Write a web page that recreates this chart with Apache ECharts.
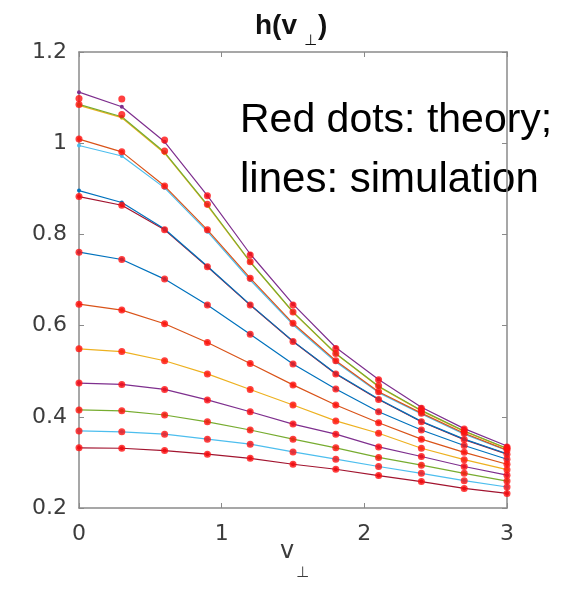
<!DOCTYPE html>
<html>
<head>
<meta charset="utf-8">
<script src="https://cdn.jsdelivr.net/npm/echarts@6/dist/echarts.min.js"></script>
<style>html,body{margin:0;padding:0;background:#fff;}#c{width:588px;height:589px;}</style>
</head>
<body>
<div id="c"></div>
<script>
// x positions (v_perp)
const vPerp = [0, 0.3, 0.6, 0.9, 1.2, 1.5, 1.8, 2.1, 2.4, 2.7, 3.0];
const xTicks = [0, 1, 2, 3];
const yTicks = [0.2, 0.4, 0.6, 0.8, 1, 1.2];

// theory (red dots)
const theory1  = [1.098, 1.097, 1.007, 0.885, 0.755, 0.645, 0.550, 0.481, 0.419, 0.373, 0.334];
const theory2  = [1.085, 1.063, 0.983, 0.866, 0.740, 0.630, 0.539, 0.468, 0.414, 0.369, 0.331];
const theory3  = [1.009, 0.981, 0.906, 0.810, 0.704, 0.605, 0.523, 0.455, 0.408, 0.364, 0.327];
const theory4  = [0.883, 0.864, 0.810, 0.729, 0.645, 0.565, 0.494, 0.438, 0.389, 0.350, 0.318];
const theory5  = [0.761, 0.745, 0.702, 0.645, 0.581, 0.516, 0.461, 0.411, 0.371, 0.337, 0.307];
const theory6  = [0.647, 0.634, 0.604, 0.563, 0.517, 0.470, 0.426, 0.387, 0.351, 0.322, 0.296];
const theory7  = [0.549, 0.543, 0.523, 0.494, 0.460, 0.426, 0.391, 0.364, 0.331, 0.306, 0.284];
const theory8  = [0.474, 0.471, 0.460, 0.437, 0.411, 0.384, 0.362, 0.334, 0.313, 0.291, 0.272];
const theory9  = [0.415, 0.413, 0.404, 0.389, 0.371, 0.351, 0.332, 0.311, 0.294, 0.276, 0.259];
const theory10 = [0.369, 0.367, 0.362, 0.351, 0.340, 0.323, 0.307, 0.291, 0.276, 0.260, 0.246];
const theory11 = [0.332, 0.331, 0.326, 0.318, 0.309, 0.296, 0.285, 0.271, 0.258, 0.243, 0.232];

// simulation lines
const simPurpleTop = [1.112, 1.080, 1.003, 0.885, 0.757, 0.647, 0.552, 0.482, 0.421, 0.374, 0.336];
const simYellowTop = [1.083, 1.056, 0.978, 0.863, 0.739, 0.629, 0.538, 0.466, 0.413, 0.368, 0.330];
const simGreenTop  = [1.085, 1.058, 0.980, 0.865, 0.740, 0.630, 0.539, 0.467, 0.414, 0.369, 0.331];
const simOrangeTop = [1.009, 0.981, 0.906, 0.810, 0.704, 0.605, 0.523, 0.455, 0.408, 0.364, 0.327];
const simCyanTop   = [0.995, 0.972, 0.902, 0.806, 0.700, 0.602, 0.520, 0.453, 0.406, 0.362, 0.326];
const simBlueTop   = [0.896, 0.870, 0.812, 0.730, 0.646, 0.566, 0.495, 0.439, 0.390, 0.351, 0.319];
const simDarkRed1  = [0.883, 0.864, 0.810, 0.729, 0.645, 0.565, 0.494, 0.438, 0.389, 0.350, 0.318];
const simBlue2     = [0.761, 0.745, 0.702, 0.645, 0.581, 0.516, 0.461, 0.411, 0.371, 0.337, 0.307];
const simOrange2   = [0.647, 0.634, 0.604, 0.563, 0.517, 0.470, 0.426, 0.387, 0.351, 0.322, 0.296];
const simYellow2   = [0.549, 0.543, 0.523, 0.494, 0.460, 0.426, 0.391, 0.364, 0.331, 0.306, 0.284];
const simPurple2   = [0.474, 0.471, 0.460, 0.437, 0.411, 0.384, 0.362, 0.334, 0.313, 0.291, 0.272];
const simGreen2    = [0.415, 0.413, 0.404, 0.389, 0.371, 0.351, 0.332, 0.311, 0.294, 0.276, 0.259];
const simCyan2     = [0.369, 0.367, 0.362, 0.351, 0.340, 0.323, 0.307, 0.291, 0.276, 0.260, 0.246];
const simDarkRed2  = [0.332, 0.331, 0.326, 0.318, 0.309, 0.296, 0.285, 0.271, 0.258, 0.243, 0.232];

const C = {blue:'#0072BD', orange:'#D95319', yellow:'#EDB120', purple:'#7E2F8E', green:'#77AC30', cyan:'#4DBEEE', darkred:'#A2142F'};

const simLines = [
  [simDarkRed2, C.darkred], [simCyan2, C.cyan], [simGreen2, C.green], [simPurple2, C.purple],
  [simYellow2, C.yellow], [simOrange2, C.orange], [simBlue2, C.blue], [simDarkRed1, C.darkred],
  [simBlueTop, C.blue], [simCyanTop, C.cyan], [simOrangeTop, C.orange],
  [simYellowTop, C.yellow], [simGreenTop, C.green], [simPurpleTop, C.purple]
];
const theories = [theory1, theory2, theory3, theory4, theory5, theory6, theory7, theory8, theory9, theory10, theory11];

const pairs = ys => vPerp.map((x, i) => [x, ys[i]]);

const series = [];
simLines.forEach(([ys, col]) => {
  series.push({
    type: 'line', data: pairs(ys), symbol: 'circle', symbolSize: 4, showSymbol: true,
    itemStyle: {color: col}, lineStyle: {color: col, width: 1.2}, z: 2, silent: true, animation: false
  });
});
theories.forEach(ys => {
  series.push({
    type: 'scatter', data: pairs(ys), symbol: 'circle', symbolSize: 7,
    itemStyle: {color: '#ff1010'}, z: 3, silent: true, animation: false
  });
});

const axisCol = '#8a8a8a';
const labelFont = {fontFamily: 'DejaVu Sans', fontSize: 22, color: '#3c3c3c'};

const chart = echarts.init(document.getElementById('c'), null, {renderer: 'canvas'});
chart.setOption({
  animation: false,
  backgroundColor: '#fff',
  grid: {left: 79, right: 81, top: 52, bottom: 81, containLabel: false},
  xAxis: [
    {type: 'value', min: xTicks[0], max: xTicks[xTicks.length - 1], interval: 1, position: 'bottom',
     axisLine: {show: true, lineStyle: {color: axisCol, width: 1.5}},
     axisTick: {show: true, inside: true, length: 5, lineStyle: {color: axisCol}},
     axisLabel: Object.assign({margin: 15}, labelFont),
     splitLine: {show: false}},
    {type: 'value', min: xTicks[0], max: xTicks[xTicks.length - 1], interval: 1, position: 'top',
     axisLine: {show: true, onZero: false, lineStyle: {color: axisCol, width: 1.5}},
     axisTick: {show: true, inside: true, length: 5, lineStyle: {color: axisCol}},
     axisLabel: {show: false}, splitLine: {show: false}}
  ],
  yAxis: [
    {type: 'value', min: yTicks[0], max: yTicks[yTicks.length - 1], interval: 0.2, position: 'left',
     axisLine: {show: true, lineStyle: {color: axisCol, width: 1.5}},
     axisTick: {show: true, inside: true, length: 5, lineStyle: {color: axisCol}},
     axisLabel: Object.assign({margin: 12}, labelFont),
     splitLine: {show: false}},
    {type: 'value', min: yTicks[0], max: yTicks[yTicks.length - 1], interval: 0.2, position: 'right',
     axisLine: {show: true, onZero: false, lineStyle: {color: axisCol, width: 1.5}},
     axisTick: {show: true, inside: true, length: 5, lineStyle: {color: axisCol}},
     axisLabel: {show: false}, splitLine: {show: false}}
  ],
  series: series,
  graphic: [
    {type: 'text', x: 255, y: 12, style: {text: 'h(v', font: 'bold 28px "Liberation Sans"', fill: '#111'}},
    {type: 'text', x: 304, y: 34, style: {text: '⊥', font: '15px "DejaVu Sans"', fill: '#111'}},
    {type: 'text', x: 318, y: 12, style: {text: ')', font: 'bold 28px "Liberation Sans"', fill: '#111'}},
    {type: 'text', x: 240, y: 100, style: {text: 'Red dots: theory;', font: '41px "Liberation Sans"', fill: '#000'}},
    {type: 'text', x: 240, y: 159, style: {text: 'lines: simulation', font: '42px "Liberation Sans"', fill: '#000'}},
    {type: 'text', x: 280, y: 540, style: {text: 'v', font: '24px "DejaVu Sans"', fill: '#3c3c3c'}},
    {type: 'text', x: 296, y: 566, style: {text: '⊥', font: '15px "DejaVu Sans"', fill: '#3c3c3c'}}
  ]
});
</script>
</body>
</html>
